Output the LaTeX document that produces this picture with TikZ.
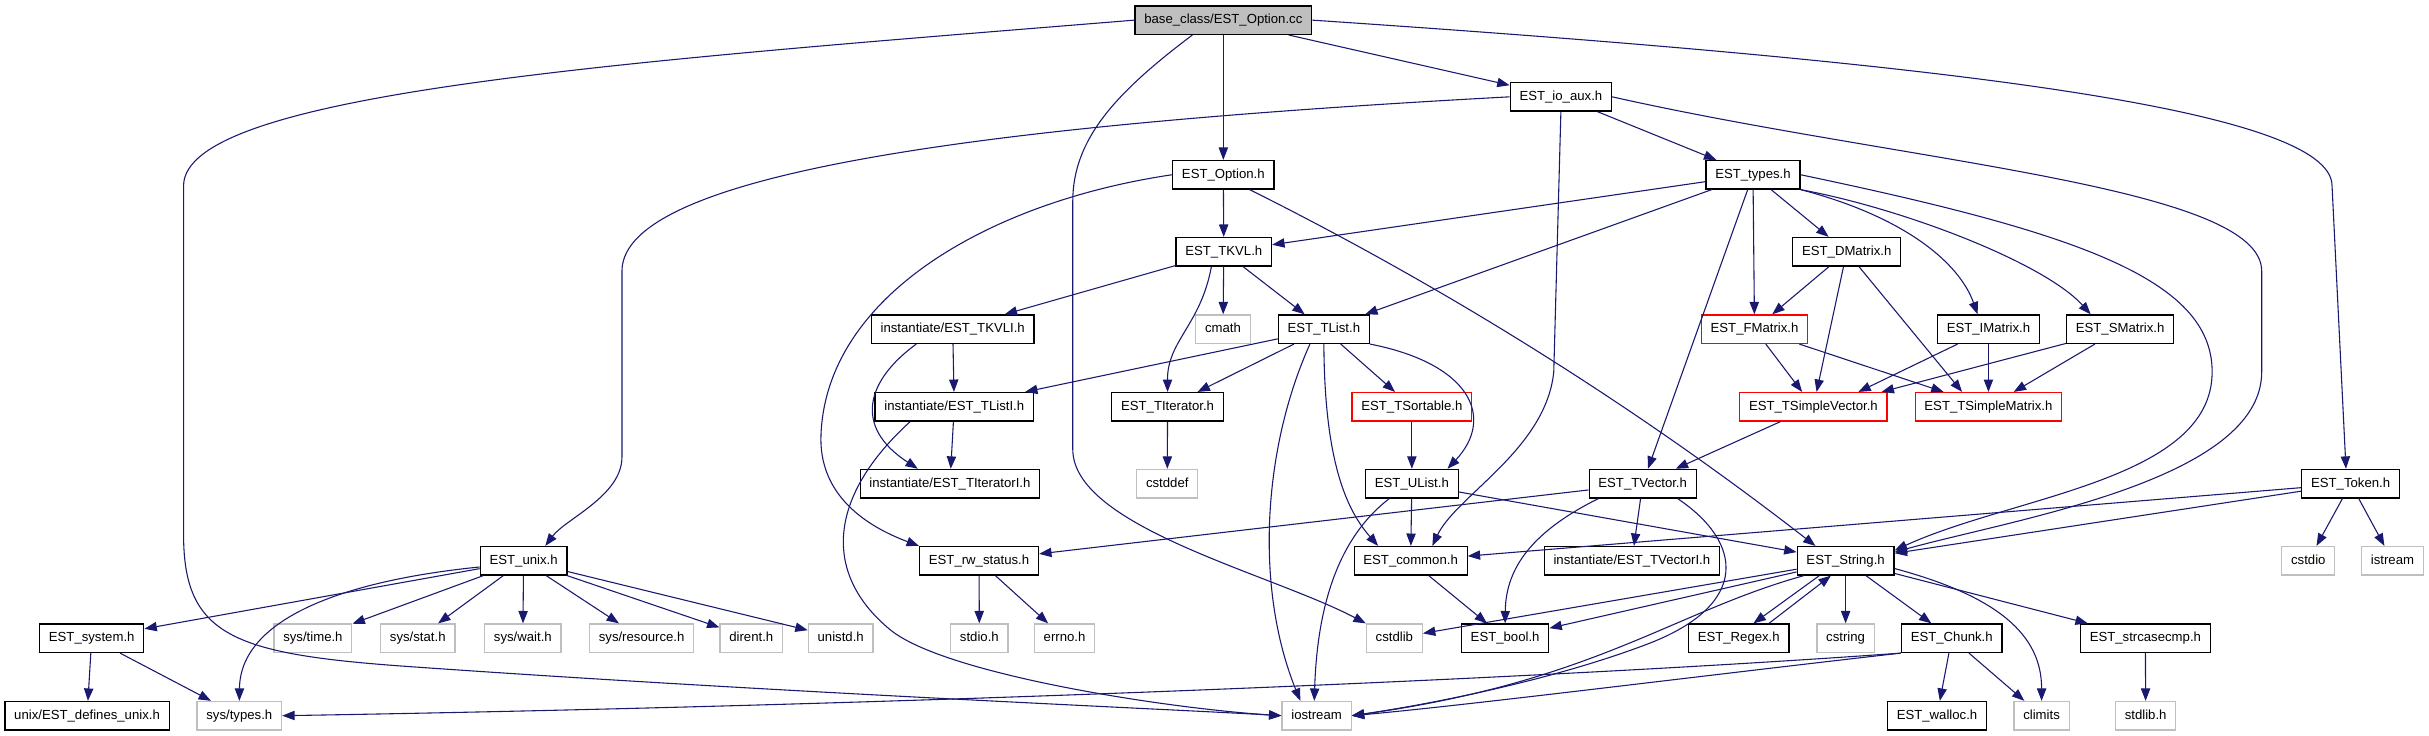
\documentclass[tikz,border=0pt]{standalone}
\usepackage{fontspec}
\setmainfont{Liberation Sans}
\usetikzlibrary{arrows.meta}

\definecolor{edgeblue}{HTML}{191970}
\definecolor{boxgray}{HTML}{BFBFBF}

\begin{document}
\begin{tikzpicture}[x=1pt, y=-1pt,
  hdr/.style={draw=black, line width=0.8pt, fill=white, minimum height=18.4pt,
    inner xsep=6pt, inner ysep=0pt, text height=6.6pt, text depth=1.8pt,
    font=\fontsize{8.5}{10}\selectfont},
  syshdr/.style={hdr, draw=boxgray},
  redhdr/.style={hdr, draw=red},
  roothdr/.style={hdr, fill=boxgray},
  dep/.style={draw=edgeblue, line width=0.7pt, -{Triangle[length=8pt,width=6pt]}}]

\useasboundingbox (0,0) rectangle (1568,475);

% Row 0 and 1
\node[roothdr] (root) at (789.7,13) {base\_class/EST\_Option.cc};
\node[hdr] (ioaux) at (1007.6,62.5) {EST\_io\_aux.h};

% Row 2
\node[hdr] (optionh) at (789.7,112.8) {EST\_Option.h};
\node[hdr] (types) at (1131.6,112.8) {EST\_types.h};

% Row 3
\node[hdr] (tkvl) at (790,162.5) {EST\_TKVL.h};
\node[hdr] (dmatrix) at (1192.1,162.5) {EST\_DMatrix.h};

% Row 4
\node[hdr] (tkvli) at (615,212.5) {instantiate/EST\_TKVLI.h};
\node[syshdr] (cmath) at (789.5,212.5) {cmath};
\node[hdr] (tlist) at (854.6,212.5) {EST\_TList.h};
\node[redhdr] (fmatrix) at (1132.6,212.5) {EST\_FMatrix.h};
\node[hdr] (imatrix) at (1283.6,212.5) {EST\_IMatrix.h};
\node[hdr] (smatrix) at (1368.6,212.5) {EST\_SMatrix.h};

% Row 5
\node[hdr] (tlisti) at (616,262.6) {instantiate/EST\_TListI.h};
\node[hdr] (titerator) at (753.7,262.6) {EST\_TIterator.h};
\node[redhdr] (tsortable) at (911.4,262.6) {EST\_TSortable.h};
\node[redhdr] (tsvector) at (1170.6,262.6) {EST\_TSimpleVector.h};
\node[redhdr] (tsmatrix) at (1283.6,262.6) {EST\_TSimpleMatrix.h};

% Row 6
\node[hdr] (titeratori) at (613.2,312.2) {instantiate/EST\_TIteratorI.h};
\node[syshdr] (cstddef) at (753.5,312.2) {cstddef};
\node[hdr] (ulist) at (911.4,312.2) {EST\_UList.h};
\node[hdr] (tvector) at (1060.4,312.2) {EST\_TVector.h};
\node[hdr] (token) at (1517.4,312.2) {EST\_Token.h};

% Row 7
\node[hdr] (unix) at (338,362) {EST\_unix.h};
\node[hdr] (rwstatus) at (632,362) {EST\_rw\_status.h};
\node[hdr] (common) at (910.6,362) {EST\_common.h};
\node[hdr] (tvectori) at (1053.4,362) {instantiate/EST\_TVectorI.h};
\node[hdr] (string) at (1191.4,362) {EST\_String.h};
\node[syshdr] (cstdio) at (1490.1,362) {cstdio};
\node[syshdr] (istream) at (1544.4,362) {istream};

% Row 8
\node[hdr] (system) at (59.2,412) {EST\_system.h};
\node[syshdr] (systime) at (202,412) {sys/time.h};
\node[syshdr] (sysstat) at (269.7,412) {sys/stat.h};
\node[syshdr] (syswait) at (337.5,412) {sys/wait.h};
\node[syshdr] (sysres) at (414.2,412) {sys/resource.h};
\node[syshdr] (dirent) at (485,412) {dirent.h};
\node[syshdr] (unistd) at (542.7,412) {unistd.h};
\node[syshdr] (stdioh) at (632.2,412) {stdio.h};
\node[syshdr] (errno) at (687.2,412) {errno.h};
\node[syshdr] (cstdlib) at (900.1,412) {cstdlib};
\node[hdr] (bool) at (971.6,412) {EST\_bool.h};
\node[hdr] (regex) at (1122.4,412) {EST\_Regex.h};
\node[syshdr] (cstring) at (1191.4,412) {cstring};
\node[hdr] (chunk) at (1259.9,412) {EST\_Chunk.h};
\node[hdr] (strcasecmp) at (1384.9,412) {EST\_strcasecmp.h};

% Row 9
\node[hdr] (definesunix) at (56.2,462) {unix/EST\_defines\_unix.h};
\node[syshdr] (systypes) at (154.5,462) {sys/types.h};
\node[syshdr] (iostream) at (849.9,462) {iostream};
\node[hdr] (walloc) at (1250.4,462) {EST\_walloc.h};
\node[syshdr] (climits) at (1317.9,462) {climits};
\node[syshdr] (stdlibh) at (1385.1,462) {stdlib.h};

% base_class/EST_Option.cc
\draw[dep] (root.west) .. controls (400,40) and (118.5,60) .. (118.5,120)
  -- (118.5,345) .. controls (118.5,410) and (150,422) .. (260,430)
  .. controls (500,447) and (760,458) .. (iostream.west);
\draw[dep] (root) -- (optionh);
\draw[dep] (root) -- (ioaux);
\draw[dep] ([xshift=-20pt]root.south) .. controls (720,60) and (692.5,90) .. (692.5,130)
  -- (692.5,290) .. controls (692.5,340) and (820,370) .. (cstdlib.north west);
\draw[dep] (root.east) .. controls (1250,40) and (1505.4,70) .. (1505.4,120)
  -- ([xshift=-3pt]token.north);

% EST_io_aux.h
\draw[dep] (ioaux.west) .. controls (650,80) and (401.5,110) .. (401.5,175)
  -- (401.5,295) .. controls (401.5,320) and (365,335) .. ([xshift=14pt]unix.north);
\draw[dep] (ioaux.south) -- (1003,240) .. controls (998,290) and (940,320) .. ([xshift=14pt]common.north);
\draw[dep] (ioaux) -- (types);
\draw[dep] (ioaux.east) .. controls (1230,105) and (1460,120) .. (1460,175)
  -- (1460,240) .. controls (1460,310) and (1300,335) .. (string.10);

% EST_Option.h
\draw[dep] (optionh) -- (tkvl);
\draw[dep] (optionh.west) .. controls (640,130) and (534,190) .. (530,280)
  .. controls (528,320) and (560,340) .. (rwstatus.north west);
\draw[dep] ([xshift=17pt]optionh.south) .. controls (936,187) and (1058,264) .. ([xshift=-19.5pt]string.north);

% EST_types.h
\draw[dep] (types) -- (tkvl);
\draw[dep] (types) -- (tlist);
\draw[dep] (types) -- (tvector);
\draw[dep] (types) -- (fmatrix);
\draw[dep] (types) -- (dmatrix);
\draw[dep] (types.south east) .. controls (1230,140) and (1265,170) .. ([xshift=-7pt]imatrix.north);
\draw[dep] (types.south east) .. controls (1230,135) and (1320,170) .. ([xshift=-19pt]smatrix.north);
\draw[dep] (types.east) .. controls (1340,150) and (1428,180) .. (1428,240)
  .. controls (1428,310) and (1300,320) .. (string.12);

% EST_TKVL.h
\draw[dep] (tkvl) -- (tkvli);
\draw[dep] (tkvl) -- (cmath);
\draw[dep] (tkvl) -- (tlist);
\draw[dep] ([xshift=-8pt]tkvl.south) .. controls (775,210) and (753.5,220) .. (titerator.north);

% instantiate/EST_TKVLI.h
\draw[dep] (tkvli) -- (tlisti);
\draw[dep] ([xshift=-23.5pt]tkvli.south) .. controls (560,245) and (550,275) .. ([xshift=-20.7pt]titeratori.north);

% EST_TList.h
\draw[dep] (tlist) -- (tlisti);
\draw[dep] (tlist) -- (titerator);
\draw[dep] (tlist) -- (tsortable);
\draw[dep] (tlist.south east) .. controls (950,235) and (965,270) .. ([xshift=23pt]ulist.north);
\draw[dep] (tlist.south) .. controls (855,300) and (870,330) .. ([xshift=-21pt]common.north);
\draw[dep] ([xshift=-9pt]tlist.south) .. controls (815,290) and (810,380) .. ([xshift=-10.5pt]iostream.north);

% second row of templates
\draw[dep] (titerator) -- (cstddef);
\draw[dep] (tlisti) -- (titeratori);
\draw[dep] ([xshift=-28.5pt]tlisti.south) .. controls (535,320) and (530,370) .. (575,406.8)
  .. controls (610,435) and (750,457) .. (iostream.west);
\draw[dep] (tsortable) -- (ulist);
\draw[dep] (tsvector) -- (tvector);

% matrices
\draw[dep] (dmatrix) -- (fmatrix);
\draw[dep] (dmatrix) -- (tsvector);
\draw[dep] (dmatrix) -- ([xshift=-17pt]tsmatrix.north);
\draw[dep] (fmatrix) -- (tsvector);
\draw[dep] (fmatrix) -- (tsmatrix);
\draw[dep] (imatrix) -- ([xshift=29pt]tsvector.north);
\draw[dep] (imatrix) -- (tsmatrix);
\draw[dep] (smatrix) -- ([xshift=44pt]tsvector.north);
\draw[dep] (smatrix) -- (tsmatrix);

% EST_UList.h
\draw[dep] (ulist) -- (common);
\draw[dep] ([xshift=-14.5pt]ulist.south) .. controls (860,350) and (850,400) .. ([xshift=-1.5pt]iostream.north);
\draw[dep] (ulist) -- (string);

% EST_TVector.h
\draw[dep] (tvector) -- (rwstatus);
\draw[dep] (tvector) -- (tvectori);
\draw[dep] ([xshift=-28.5pt]tvector.south) .. controls (985,345) and (972,370) .. (bool.north);
\draw[dep] ([xshift=22.5pt]tvector.south) .. controls (1125,350) and (1130,390) .. (1064.4,415.4)
  .. controls (1000,440) and (920,455) .. (iostream.east);

% EST_Token.h
\draw[dep] (token) -- (common);
\draw[dep] (token) -- (string);
\draw[dep] (token) -- (cstdio);
\draw[dep] (token) -- (istream);

% EST_rw_status.h and EST_common.h
\draw[dep] (rwstatus) -- (stdioh);
\draw[dep] (rwstatus) -- (errno);
\draw[dep] (common) -- (bool);

% EST_String.h
\draw[dep] (string) -- (cstdlib);
\draw[dep] (string) -- (bool);
\draw[dep] ([xshift=-27pt]string.south) .. controls (1080,395) and (1030,440) .. (iostream.east);
\draw[dep] ([xshift=-17pt]string.south) -- ([xshift=9.5pt]regex.north);
\draw[dep] ([xshift=19.5pt]regex.north) -- ([xshift=-9.5pt]string.south);
\draw[dep] (string) -- (cstring);
\draw[dep] (string) -- (chunk);
\draw[dep] (string) -- (strcasecmp);
\draw[dep] (string.-9) .. controls (1290,385) and (1318,410) .. (climits.north);

% EST_Chunk.h
\draw[dep] (chunk.south west) .. controls (1100,436) and (950,455) .. (iostream.east);
\draw[dep] (chunk.south west) .. controls (1000,438) and (600,455) .. (systypes.east);
\draw[dep] (chunk) -- (walloc);
\draw[dep] (chunk) -- (climits);
\draw[dep] (strcasecmp) -- (stdlibh);

% EST_unix.h
\draw[dep] (unix) -- (system);
\draw[dep] ([yshift=-4pt]unix.west) .. controls (220,375) and (155,400) .. (systypes.north);
\draw[dep] (unix) -- (systime);
\draw[dep] (unix) -- (sysstat);
\draw[dep] (unix) -- (syswait);
\draw[dep] (unix) -- (sysres);
\draw[dep] (unix) -- (dirent);
\draw[dep] (unix) -- (unistd);

% EST_system.h
\draw[dep] (system) -- (definesunix);
\draw[dep] (system) -- (systypes);

\end{tikzpicture}
\end{document}
